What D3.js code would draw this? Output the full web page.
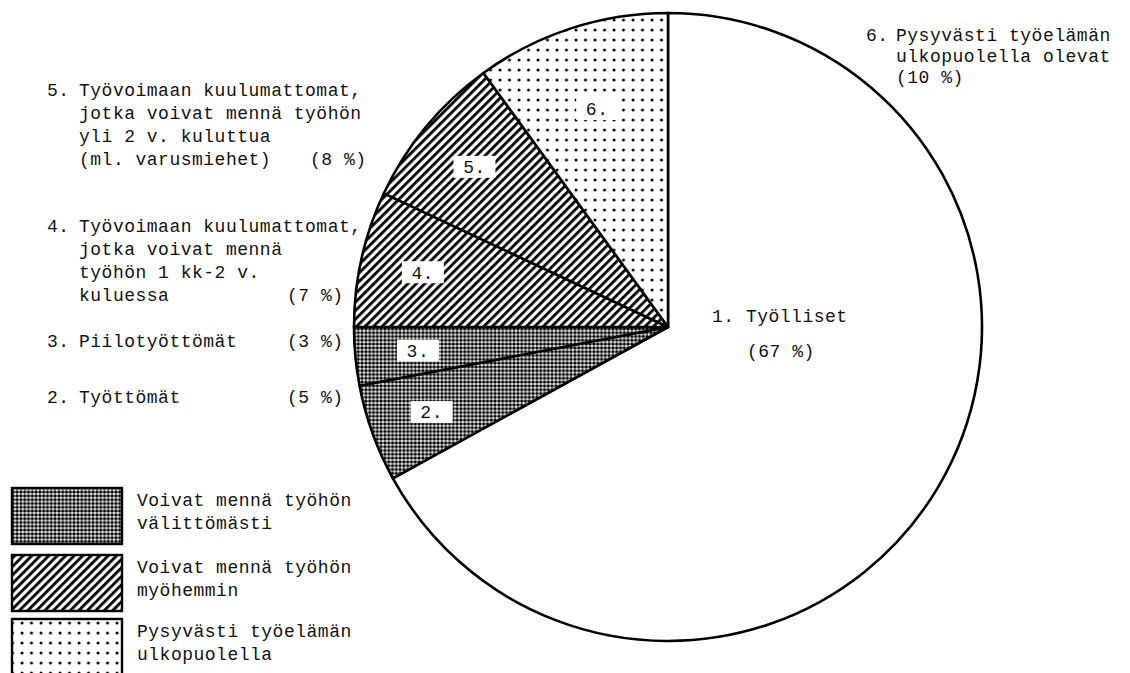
<!DOCTYPE html>
<html>
<head>
<meta charset="utf-8">
<script src="https://cdn.jsdelivr.net/npm/d3@7"></script>
<style>
  html, body { margin: 0; padding: 0; background: #fff; }
  svg text { font-family: "Liberation Mono", monospace; font-size: 18px; letter-spacing: 0.5px; fill: #111; white-space: pre; }
</style>
</head>
<body>
<svg id="chart" width="1130" height="673"></svg>
<script>
const width = 1130, height = 673;

// data
const categories = ["1.", "2.", "3.", "4.", "5.", "6."];
const values = [67, 5, 3, 7, 8, 10];
const groups = ["none", "now", "now", "later", "later", "never"];
const descriptions = [
  ["Työlliset"],
  ["Työttömät"],
  ["Piilotyöttömät"],
  ["Työvoimaan kuulumattomat,", "jotka voivat mennä", "työhön 1 kk-2 v.", "kuluessa"],
  ["Työvoimaan kuulumattomat,", "jotka voivat mennä työhön", "yli 2 v. kuluttua", "(ml. varusmiehet)"],
  ["Pysyvästi työelämän", "ulkopuolella olevat"]
];
const legendKeys = ["now", "later", "never"];
const legendLabels = [
  ["Voivat mennä työhön", "välittömästi"],
  ["Voivat mennä työhön", "myöhemmin"],
  ["Pysyvästi työelämän", "ulkopuolella"]
];

const svg = d3.select("#chart");
const defs = svg.append("defs");

// dense dot grid
const pNow = defs.append("pattern").attr("id", "p-now")
  .attr("patternUnits", "userSpaceOnUse").attr("width", 3.8).attr("height", 3.8);
pNow.append("rect").attr("width", 3.8).attr("height", 3.8).attr("fill", "#fff");
pNow.append("circle").attr("cx", 1.9).attr("cy", 1.9).attr("r", 1.7).attr("fill", "#000");

// diagonal hatching
const pLater = defs.append("pattern").attr("id", "p-later")
  .attr("patternUnits", "userSpaceOnUse").attr("width", 6).attr("height", 6)
  .attr("patternTransform", "rotate(45)");
pLater.append("rect").attr("width", 6).attr("height", 6).attr("fill", "#fff");
pLater.append("rect").attr("width", 2.8).attr("height", 6).attr("fill", "#000");

// sparse dots
const pNever = defs.append("pattern").attr("id", "p-never")
  .attr("patternUnits", "userSpaceOnUse").attr("width", 9.5).attr("height", 10);
pNever.append("rect").attr("width", 9.5).attr("height", 10).attr("fill", "#fff");
pNever.append("circle").attr("cx", 3).attr("cy", 3).attr("r", 1.5).attr("fill", "#000");

const fill = d3.scaleOrdinal()
  .domain(["none", "now", "later", "never"])
  .range(["#fff", "url(#p-now)", "url(#p-later)", "url(#p-never)"]);

// pie
const cx = 668, cy = 327, R = 314;
const rows = categories.map((c, i) => ({ cat: c, value: values[i], group: groups[i], desc: descriptions[i] }));

const pie = d3.pie().sort(null).value(d => d.value);
const arcs = pie(rows);
const arc = d3.arc().innerRadius(0).outerRadius(R);

const g = svg.append("g").attr("transform", "translate(" + cx + "," + cy + ")");

g.selectAll("path.slice")
  .data(arcs)
  .join("path")
  .attr("class", "slice")
  .attr("d", arc)
  .attr("fill", d => fill(d.data.group))
  .attr("stroke", "#000")
  .attr("stroke-width", 2.6)
  .attr("stroke-linejoin", "round");

// number labels inside the slices (not for slice 1)
const labelArc = d => d3.arc()
  .innerRadius(R * (d.data.cat === "6." ? 0.73 : 0.8))
  .outerRadius(R * (d.data.cat === "6." ? 0.73 : 0.8));

const inner = g.selectAll("g.num")
  .data(arcs.filter(d => d.data.group !== "none"))
  .join("g")
  .attr("class", "num")
  .attr("transform", d => "translate(" + labelArc(d).centroid(d) + ")");

inner.append("rect")
  .attr("x", -21).attr("y", -11).attr("width", 42).attr("height", 22)
  .attr("fill", "#fff");

inner.append("text")
  .attr("text-anchor", "middle")
  .attr("dy", "0.35em")
  .text(d => d.data.cat);

// category descriptions around the pie
const lineH = 23;
const blockPos = {
  "1.": { x: 712, y: 322, indent: 0, pctX: 747, pctY: 357 },
  "2.": { x: 47, y: 403, indent: 32, pctX: 287, pctLine: 0 },
  "3.": { x: 47, y: 347, indent: 32, pctX: 287, pctLine: 0 },
  "4.": { x: 47, y: 232, indent: 32, pctX: 287, pctLine: 3 },
  "5.": { x: 47, y: 96, indent: 32, pctX: 310, pctLine: 3 },
  "6.": { x: 866, y: 41, indent: 30, pctX: 896, pctLine: 2, lh: 21, ls: 1.2 }
};

rows.forEach(d => {
  const p = blockPos[d.cat];
  const lh = p.lh || lineH;
  const blk = svg.append("g");
  if (p.ls) blk.style("letter-spacing", p.ls + "px");
  if (d.cat === "1.") {
    blk.append("text").attr("x", p.x).attr("y", p.y).text(d.cat + " " + d.desc[0]);
    blk.append("text").attr("x", p.pctX).attr("y", p.pctY).text("(" + d.value + " %)");
    return;
  }
  blk.append("text").attr("x", p.x).attr("y", p.y).text(d.cat);
  d.desc.forEach((line, i) => {
    blk.append("text")
      .attr("x", p.x + p.indent)
      .attr("y", p.y + i * lh)
      .text(line);
  });
  blk.append("text")
    .attr("x", p.pctX)
    .attr("y", p.y + p.pctLine * lh)
    .text("(" + d.value + " %)");
});

// legend
const legTop = [488, 555, 619];
const legend = svg.append("g");
legendKeys.forEach((k, i) => {
  legend.append("rect")
    .attr("x", 12).attr("y", legTop[i])
    .attr("width", 110).attr("height", i === 2 ? 70 : 56)
    .attr("fill", fill(k))
    .attr("stroke", "#000")
    .attr("stroke-width", 2.4);
  legendLabels[i].forEach((line, j) => {
    legend.append("text")
      .attr("x", 137)
      .attr("y", legTop[i] + 18 + j * 23)
      .text(line);
  });
});
</script>
</body>
</html>
